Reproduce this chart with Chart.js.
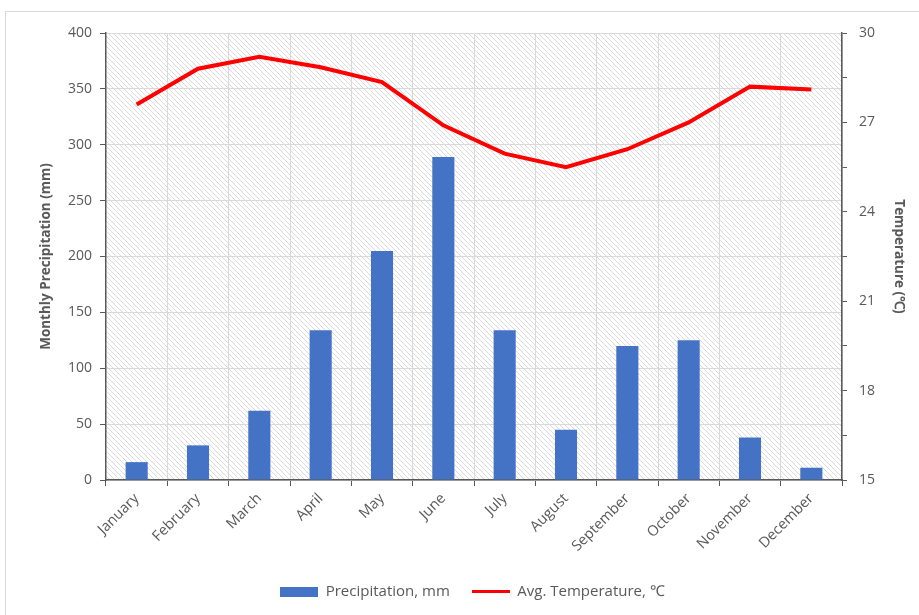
<!DOCTYPE html>
<html>
<head>
<meta charset="utf-8">
<script src="https://cdn.jsdelivr.net/npm/chart.js@4.4.1/dist/chart.umd.min.js"></script>
<style>
  html, body { margin: 0; padding: 0; background: #fff; }
  #wrap { width: 919px; height: 615px; }
</style>
</head>
<body>
<div id="wrap"><canvas id="chart" width="919" height="615"></canvas></div>
<script>
const months = ["January", "February", "March", "April", "May", "June",
  "July", "August", "September", "October", "November", "December"];
const precipitation = [16, 31, 62, 134, 205, 289, 134, 45, 120, 125, 38, 11];
const temperature = [27.6, 28.8, 29.2, 28.85, 28.35, 26.9, 25.95, 25.5, 26.1, 27.0, 28.2, 28.1];

const grey = "#595959";
const gridGrey = "#d9d9d9";

// hatch pattern for plot area
function makeHatch() {
  const c = document.createElement("canvas");
  c.width = 10; c.height = 10;
  const g = c.getContext("2d");
  g.fillStyle = "#fff";
  g.fillRect(0, 0, 10, 10);
  g.fillStyle = "#dadada";
  for (let y = 0; y < 10; y++) {
    for (let x = 0; x < 10; x++) {
      if ((x - y + 10) % 5 === 0) g.fillRect(x, y, 1, 1);
    }
  }
  return c;
}

function legendIcon(color, h) {
  const c = document.createElement("canvas");
  c.width = 38; c.height = h;
  const g = c.getContext("2d");
  g.fillStyle = color;
  g.fillRect(0, 0, 38, h);
  return c;
}

const barIcon = legendIcon("#4472C4", 10);
const lineIcon = legendIcon("#FF0000", 3);

const backdrop = {
  id: "backdrop",
  beforeDraw(chart) {
    const { ctx, chartArea: a } = chart;
    ctx.save();
    ctx.fillStyle = "#fff";
    ctx.fillRect(0, 0, chart.width, chart.height);
    ctx.strokeStyle = gridGrey;
    ctx.lineWidth = 1;
    ctx.strokeRect(5.5, 11.5, 1000, 1000);
    ctx.fillStyle = ctx.createPattern(makeHatch(), "repeat");
    ctx.fillRect(a.left, a.top, a.right - a.left, a.bottom - a.top);
    ctx.restore();
  }
};

Chart.defaults.font.family = "'Open Sans', sans-serif";
Chart.defaults.color = grey;

new Chart(document.getElementById("chart"), {
  type: "bar",
  data: {
    labels: months,
    datasets: [
      {
        type: "line",
        label: "Avg. Temperature, ℃",
        data: temperature,
        yAxisID: "y2",
        borderColor: "#FF0000",
        borderWidth: 4,
        pointRadius: 0,
        tension: 0,
        order: 0
      },
      {
        label: "Precipitation, mm",
        data: precipitation,
        yAxisID: "y",
        backgroundColor: "#4472C4",
        barPercentage: 0.36,
        categoryPercentage: 1,
        order: 1
      }
    ]
  },
  options: {
    responsive: false,
    animation: false,
    layout: { padding: { left: 34, right: 8, top: 33, bottom: 6 } },
    plugins: {
      tooltip: { enabled: false },
      legend: {
        position: "bottom",
        labels: {
          usePointStyle: true,
          pointStyleWidth: 38,
          padding: 22,
          font: { size: 15 },
          color: grey,
          generateLabels() {
            return [
              { text: "Precipitation, mm", pointStyle: barIcon, fillStyle: "#4472C4", strokeStyle: "#4472C4", lineWidth: 0, datasetIndex: 1, fontColor: grey },
              { text: "Avg. Temperature, ℃", pointStyle: lineIcon, fillStyle: "#FF0000", strokeStyle: "#FF0000", lineWidth: 0, datasetIndex: 0, fontColor: grey }
            ];
          }
        }
      }
    },
    scales: {
      x: {
        grid: { color: gridGrey, tickColor: grey, tickLength: 6, offset: true },
        border: { color: grey, width: 1.5 },
        ticks: { minRotation: 45, maxRotation: 45, font: { size: 14.5 }, color: grey, padding: 4 },
        afterFit(s) { s.height = 82; }
      },
      y: {
        position: "left",
        min: 0,
        max: 400,
        grid: { color: gridGrey, tickColor: grey, tickLength: 6 },
        border: { color: grey, width: 1.5 },
        ticks: { stepSize: 50, font: { size: 14 }, color: grey, padding: 8 },
        title: { display: true, text: "Monthly Precipitation (mm)", font: { size: 13.5, weight: "bold" }, color: grey, padding: 4 },
        afterFit(s) { s.width = 72; }
      },
      y2: {
        position: "right",
        min: 15,
        max: 30,
        grid: { drawOnChartArea: false, tickColor: grey, tickLength: 5 },
        border: { color: grey, width: 1.5 },
        ticks: {
          stepSize: 1.5,
          font: { size: 14 },
          color: grey,
          padding: 12,
          callback: v => (Math.abs(v % 3) < 0.01 ? String(v) : "")
        },
        title: { display: true, text: "Temperature (℃)", font: { size: 13.5, weight: "bold" }, color: grey, padding: 4 },
        afterFit(s) { s.width = 69; }
      }
    }
  },
  plugins: [backdrop]
});
</script>
</body>
</html>
